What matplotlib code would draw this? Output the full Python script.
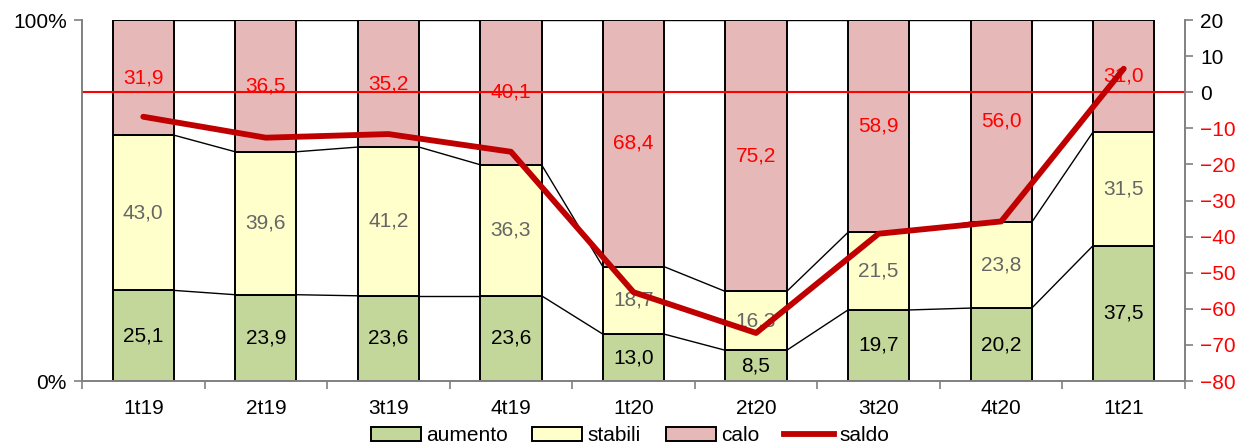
import matplotlib
matplotlib.use("Agg")
import matplotlib.pyplot as plt
import numpy as np
from matplotlib.patches import Patch
from matplotlib.lines import Line2D

plt.rcParams['font.family'] = ['Liberation Sans', 'DejaVu Sans']

periodi = ['1t19', '2t19', '3t19', '4t19', '1t20', '2t20', '3t20', '4t20', '1t21']
aumento = [25.1, 23.9, 23.6, 23.6, 13.0, 8.5, 19.7, 20.2, 37.5]
stabili = [43.0, 39.6, 41.2, 36.3, 18.7, 16.3, 21.5, 23.8, 31.5]
calo = [31.9, 36.5, 35.2, 40.1, 68.4, 75.2, 58.9, 56.0, 31.0]
saldo = [-6.8, -12.6, -11.6, -16.5, -55.4, -66.7, -39.2, -35.8, 6.5]

c_aum = '#C4D79B'
c_sta = '#FFFFCC'
c_cal = '#E6B9B8'
c_sal = '#C00000'
grigio = '#808080'
fs = 15

fig = plt.figure(figsize=(12.42, 4.44), dpi=100)
ax = fig.add_axes([82/1242, 1-381/444, (1185-82)/1242, (381-20)/444])
ax2 = ax.twinx()

x = np.arange(len(periodi))
w = 0.5
a = np.array(aumento)
s = np.array(stabili)
c = np.array(calo)
tot = a + s + c
ap = a / tot * 100
sp = s / tot * 100
cp = c / tot * 100

ax.bar(x, ap, w, color=c_aum, edgecolor='black', linewidth=1.4, zorder=2)
ax.bar(x, sp, w, bottom=ap, color=c_sta, edgecolor='black', linewidth=1.4, zorder=2)
ax.bar(x, cp, w, bottom=ap+sp, color=c_cal, edgecolor='black', linewidth=1.4, zorder=2)

# linee di serie tra le barre
for livello in [ap, ap+sp, ap+sp+cp]:
    for i in range(len(x)-1):
        ax.plot([x[i]+w/2, x[i+1]-w/2], [livello[i], livello[i+1]],
                color='black', linewidth=1.0, zorder=1)

for i in range(len(x)):
    ax.text(x[i], ap[i]/2, f"{aumento[i]:.1f}".replace('.', ','),
            ha='center', va='center', fontsize=fs, color='black', zorder=3)
    ax.text(x[i], ap[i]+sp[i]/2, f"{stabili[i]:.1f}".replace('.', ','),
            ha='center', va='center', fontsize=fs, color='#666666', zorder=3)
    ax.text(x[i], ap[i]+sp[i]+cp[i]/2, f"{calo[i]:.1f}".replace('.', ','),
            ha='center', va='center', fontsize=fs, color='red', zorder=3)

ax.set_xlim(-0.5, len(x)-0.5)
ax.set_ylim(0, 100)
ax.set_yticks([0, 100])
ax.set_yticklabels(['0%', '100%'], fontsize=fs)
ax.set_xticks(x)
ax.set_xticklabels(periodi, fontsize=fs)
ax.set_xticks(np.arange(-0.5, len(x), 1), minor=True)
ax.tick_params(axis='x', which='major', length=0, pad=13)
ax.tick_params(axis='x', which='minor', length=6, color=grigio, width=1.2)
ax.tick_params(axis='y', length=6, color=grigio, width=1.2, pad=5)

ax2.axhline(0, color='red', linewidth=1.5, zorder=1)
ax2.plot(x, saldo, color=c_sal, linewidth=4.2, solid_capstyle='round', zorder=3)
ax2.set_ylim(-80, 20)
ax2.set_yticks(np.arange(-80, 21, 10))
ax2.tick_params(axis='y', length=6, color=grigio, width=1.2, labelsize=fs, pad=5)
for t, v in zip(ax2.get_yticklabels(), np.arange(-80, 21, 10)):
    t.set_color('red' if v < 0 else 'black')

for a_ in (ax, ax2):
    a_.spines['top'].set_visible(False)
    for k in ('left', 'right', 'bottom'):
        a_.spines[k].set_color(grigio)
        a_.spines[k].set_linewidth(1.2)

handles = [Patch(facecolor=c_aum, edgecolor='black', linewidth=1.4, label='aumento'),
           Patch(facecolor=c_sta, edgecolor='black', linewidth=1.4, label='stabili'),
           Patch(facecolor=c_cal, edgecolor='black', linewidth=1.4, label='calo'),
           Line2D([0], [0], color=c_sal, linewidth=4.2, label='saldo')]
fig.legend(handles=handles, loc='lower center', bbox_to_anchor=(630/1242, -0.045),
           ncol=4, frameon=False, fontsize=fs, handlelength=2.4, handleheight=0.6,
           handletextpad=0.25, columnspacing=1.2)

fig.savefig('out.png', dpi=100)
